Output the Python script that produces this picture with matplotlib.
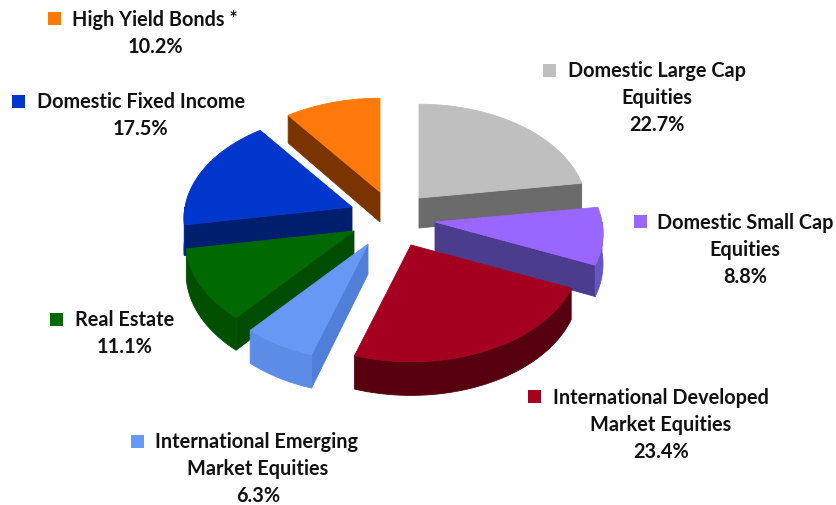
import numpy as np
import matplotlib
matplotlib.use("Agg")
import matplotlib.pyplot as plt
from matplotlib.patches import Polygon, Rectangle

# shares in clockwise order, starting from 12 o'clock
names = ["Domestic Large Cap", "Domestic Small Cap", "International Developed",
         "International Emerging", "Real Estate", "Domestic Fixed Income", "High Yield Bonds"]
shares = [22.7, 8.8, 23.4, 6.3, 11.1, 17.5, 10.2]
second_lines = ["Equities", "Equities", "Market Equities", "Market Equities", "", "", ""]
name_suffix = ["", "", "", "", "", "", " *"]

top_colors = ["#BFBFBF", "#9966FF", "#A60021", "#6699F5", "#006A00", "#0036CC", "#FF7A0A"]
wall_colors = ["#6B6B6B", "#4B3C8E", "#5A000F", "#4F7FD8", "#004C00", "#001E6E", "#7A3400"]
rim_colors = ["#8A8A8A", "#6655C4", "#560010", "#5C8CE6", "#005000", "#002A90", "#8A3E00"]

# where each slice's tip sits on the canvas (pixels), the pie is exploded
apex_x = [419, 435, 411, 368, 354, 352, 380]
apex_y = [199, 223, 246, 245, 232, 208, 193]

# legend square left edge / centre y, first text line left edge, block centre x
square_x = [543, 634, 528, 131, 50, 12, 48]
square_y = [71, 222, 397, 442, 320, 102, 19]
text_x = [568, 657, 553, 155, 75, 37, 72]
block_cx = [657, 745, 661, 258, 125, 140, 155]
first_line_y = [71, 223, 398, 442, 320, 102, 20]

RX, RY, PERSP, DEPTH = 167, 104, 0.109, 30
LINE_H = 27

plt.rcParams["font.family"] = ["Lato", "DejaVu Sans"]
fig = plt.figure(figsize=(8.37, 5.06), dpi=100)
ax = fig.add_axes([0, 0, 1, 1])
ax.set_xlim(0, 837)
ax.set_ylim(506, 0)
ax.axis("off")


def rim(ang_deg):
    # tilted disc with a little perspective, angle is clockwise from the top
    a = np.radians(ang_deg)
    up = np.cos(a)
    s = 1 / (1 + PERSP * up)
    return RX * np.sin(a) * s, -RY * up * s, s


ends = np.cumsum(shares) * 3.6
starts = ends - np.array(shares) * 3.6

# back to front
for i in [6, 0, 5, 1, 4, 3, 2]:
    cx, cy = apex_x[i], apex_y[i]
    a0, a1 = starts[i], ends[i]

    # visible cut face: end edge on the right half, start edge on the left half
    edge = None
    if 0 < a1 < 180:
        edge = a1
    elif 180 < a0 < 360:
        edge = a0
    if edge is not None:
        dx, dy, s = rim(edge)
        pts = [(cx, cy), (cx + dx, cy + dy), (cx + dx, cy + dy + DEPTH * s), (cx, cy + DEPTH)]
        ax.add_patch(Polygon(pts, facecolor=wall_colors[i], edgecolor=wall_colors[i], lw=0.6))

    # outer rim, only the part facing us
    lo, hi = max(a0, 90), min(a1, 270)
    if hi > lo:
        dx, dy, s = rim(np.linspace(lo, hi, 60))
        upper = np.column_stack([cx + dx, cy + dy])
        lower = np.column_stack([cx + dx, cy + dy + DEPTH * s])[::-1]
        ax.add_patch(Polygon(np.vstack([upper, lower]), facecolor=rim_colors[i],
                             edgecolor=rim_colors[i], lw=0.6))

    dx, dy, _ = rim(np.linspace(a0, a1, 80))
    top = np.vstack([[cx, cy], np.column_stack([cx + dx, cy + dy])])
    ax.add_patch(Polygon(top, facecolor=top_colors[i], edgecolor=top_colors[i], lw=0.6))

for i, name in enumerate(names):
    ax.add_patch(Rectangle((square_x[i], square_y[i] - 6.5), 13, 13, facecolor=top_colors[i], edgecolor="none"))
    y = first_line_y[i]
    ax.text(text_x[i], y, name + name_suffix[i], ha="left", va="center",
            fontsize=14.3, fontweight="bold", color="#111111")
    if second_lines[i]:
        y += LINE_H
        ax.text(block_cx[i], y, second_lines[i], ha="center", va="center",
                fontsize=14.3, fontweight="bold", color="#111111")
    ax.text(block_cx[i], y + LINE_H, f"{shares[i]:.1f}%", ha="center", va="center",
            fontsize=14.3, fontweight="bold", color="#111111")

fig.savefig("out.png", dpi=100)
